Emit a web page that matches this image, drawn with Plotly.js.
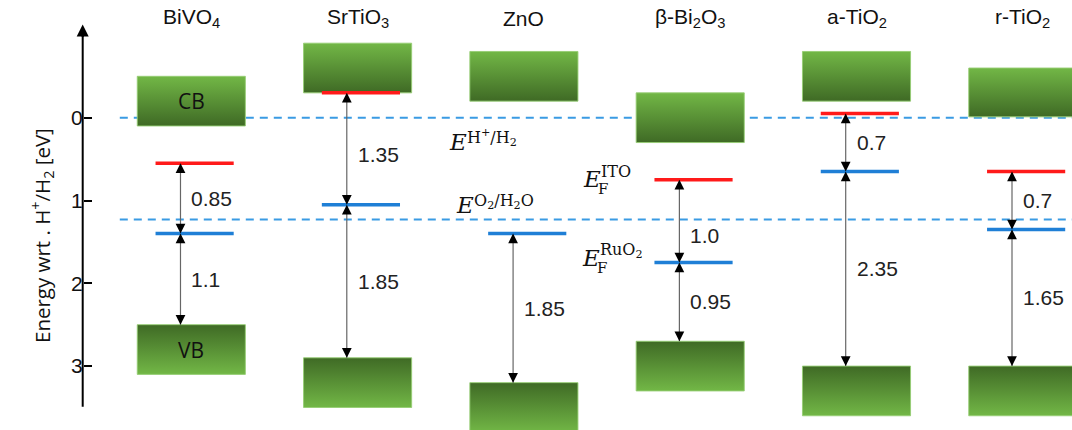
<!DOCTYPE html>
<html>
<head>
<meta charset="utf-8">
<script src="https://cdn.plot.ly/plotly-3.0.1.min.js"></script>
<style>html,body{margin:0;padding:0;background:#fff;}#chart{width:1072px;height:430px;}</style>
</head>
<body>
<div id="chart"></div>
<script>
// ---- data (energies in eV vs H+/H2, positive downward) ----
const categories = ['BiVO<sub>4</sub>', 'SrTiO<sub>3</sub>', 'ZnO', 'β-Bi<sub>2</sub>O<sub>3</sub>', 'a-TiO<sub>2</sub>', 'r-TiO<sub>2</sub>'];
const cbTop    = [-0.5, -0.9, -0.8, -0.3, -0.8, -0.6];
const cbBottom = [ 0.1, -0.3, -0.2,  0.3, -0.2, -0.01];
const vbTop    = [ 2.5,  2.9,  3.2,  2.7,  3.0,  3.0];
const vbBottom = [ 3.1,  3.5,  3.8,  3.3,  3.6,  3.6];
const efITO    = [0.55, -0.3, null, 0.75, -0.05, 0.65];
const efRuO2   = [1.4, 1.05, 1.4, 1.75, 0.65, 1.35];
const gapUpper = ['0.85', '1.35', null, '1.0', '0.7', '0.7'];
const gapLower = ['1.1', '1.85', '1.85', '0.95', '2.35', '1.65'];
const refLevels = [0, 1.23];
const tickVals = [0, 1, 2, 3];

// ---- styling ----
const boxHalf = 0.325, lineHalf = 0.235, lineOff = 0.02, arrowOff = -0.065;
const upperNudge = [0, 6, 0, 14, 0, 0]; // px shift of upper gap labels
const light = '#72b746', dark = '#3f6a25', edge = 'rgba(150,205,115,0.9)';

const traces = [];
const shapes = [];
const annotations = [];

categories.forEach((c, i) => {
  const x0 = i - boxHalf, x1 = i + boxHalf;
  traces.push({
    x: [x0, x1, x1, x0, x0], y: [cbTop[i], cbTop[i], cbBottom[i], cbBottom[i], cbTop[i]],
    mode: 'lines', fill: 'toself', line: {color: edge, width: 1}, hoverinfo: 'skip', showlegend: false,
    fillgradient: {type: 'vertical', colorscale: [[0, light], [1, dark]], start: cbTop[i], stop: cbBottom[i]}
  });
  traces.push({
    x: [x0, x1, x1, x0, x0], y: [vbTop[i], vbTop[i], vbBottom[i], vbBottom[i], vbTop[i]],
    mode: 'lines', fill: 'toself', line: {color: edge, width: 1}, hoverinfo: 'skip', showlegend: false,
    fillgradient: {type: 'vertical', colorscale: [[0, dark], [1, light]], start: vbTop[i], stop: vbBottom[i]}
  });
  // category label
  annotations.push({x: i, y: -1.2, xref: 'x', yref: 'y', text: c, showarrow: false,
    font: {family: 'Liberation Sans, Arial', size: 21, color: '#111'}});
  const ax = i + arrowOff;
  const lx0 = i + lineOff - lineHalf, lx1 = i + lineOff + lineHalf;
  const segs = [];
  if (efITO[i] !== null) segs.push([efITO[i], efRuO2[i], gapUpper[i], upperNudge[i]]);
  segs.push([efRuO2[i], vbTop[i], gapLower[i], 0]);
  segs.forEach(s => {
    shapes.push({type: 'line', xref: 'x', yref: 'y', x0: ax, x1: ax, y0: s[0], y1: s[1],
      line: {color: '#666', width: 1.2}});
    annotations.push({x: ax, y: s[0], xref: 'x', yref: 'y', ax: 0, ay: 9, text: '', showarrow: true,
      arrowhead: 2, arrowsize: 1.5, arrowwidth: 1.3, arrowcolor: '#000'});
    annotations.push({x: ax, y: s[1], xref: 'x', yref: 'y', ax: 0, ay: -9, text: '', showarrow: true,
      arrowhead: 2, arrowsize: 1.5, arrowwidth: 1.3, arrowcolor: '#000'});
    annotations.push({x: ax, y: (s[0] + s[1]) / 2, xref: 'x', yref: 'y', text: s[2], showarrow: false,
      xanchor: 'left', yanchor: 'middle', xshift: 9, yshift: -s[3],
      font: {family: 'Liberation Sans, Arial', size: 21, color: '#222'}});
  });
  if (efITO[i] !== null) shapes.push({type: 'line', xref: 'x', yref: 'y', x0: lx0, x1: lx1, y0: efITO[i], y1: efITO[i],
    line: {color: '#ff1a1a', width: 3.5}});
  shapes.push({type: 'line', xref: 'x', yref: 'y', x0: lx0, x1: lx1, y0: efRuO2[i], y1: efRuO2[i],
    line: {color: '#1f7fd6', width: 3.5}});
});

// reference dashed levels
refLevels.forEach(v => shapes.push({type: 'line', xref: 'x', yref: 'y', x0: -0.43, x1: 5.4, y0: v, y1: v,
  layer: 'below', line: {color: '#3a9be3', width: 2, dash: '8px,6px'}}));

// axis line with arrow
const axisX = -0.653;
shapes.push({type: 'line', xref: 'x', yref: 'y', x0: axisX, x1: axisX, y0: 3.49, y1: -1.05, line: {color: '#000', width: 2}});
annotations.push({x: axisX, y: -1.125, xref: 'x', yref: 'y', ax: 0, ay: 14, text: '', showarrow: true,
  arrowhead: 2, arrowsize: 1.2, arrowwidth: 2, arrowcolor: '#000'});

// CB / VB labels
annotations.push({x: 0, y: (cbTop[0] + cbBottom[0]) / 2, xref: 'x', yref: 'y', text: 'CB', showarrow: false,
  font: {family: 'Open Sans, Noto Sans', size: 21, color: '#111'}});
annotations.push({x: 0, y: (vbTop[0] + vbBottom[0]) / 2, xref: 'x', yref: 'y', text: 'VB', showarrow: false,
  font: {family: 'Open Sans, Noto Sans', size: 21, color: '#111'}});

// potential labels
const serif = 'DejaVu Serif, Liberation Serif';
function eLabel(x, y, sup, sub) {
  annotations.push({x: x, y: y, xref: 'x', yref: 'y', text: '<i>E</i>', showarrow: false, xanchor: 'left', yanchor: 'middle',
    font: {family: serif, size: 23, color: '#111'}});
  annotations.push({x: x, y: y, xref: 'x', yref: 'y', text: sup, showarrow: false, xanchor: 'left', yanchor: 'middle',
    xshift: 18, yshift: sub ? 7 : 4, font: {family: serif, size: 16, color: '#111'}});
  if (sub) annotations.push({x: x, y: y, xref: 'x', yref: 'y', text: sub, showarrow: false, xanchor: 'left', yanchor: 'middle',
    xshift: 15, yshift: -10, font: {family: serif, size: 15, color: '#111'}});
}
eLabel(1.54, 0.29, 'H<sup>+</sup>/H<sub>2</sub>');
eLabel(1.578, 1.06, 'O<sub>2</sub>/H<sub>2</sub>O');
eLabel(2.345, 0.74, 'ITO', 'F');
eLabel(2.335, 1.69, 'RuO<sub>2</sub>', 'F');

// y title
annotations.push({xref: 'paper', yref: 'paper', x: 24 / 1072, y: 1 - 236 / 430, text: 'Energy wrt . H<sup>+</sup>/H<sub>2</sub> [eV]',
  textangle: -90, showarrow: false, font: {family: 'Open Sans, Noto Sans', size: 20.5, color: '#111'}});

const layout = {
  width: 1072, height: 430,
  margin: {l: 0, r: 0, t: 0, b: 0},
  paper_bgcolor: '#fff', plot_bgcolor: '#fff',
  showlegend: false,
  xaxis: {range: [-1.1503, 5.2958], visible: false, fixedrange: true},
  yaxis: {range: [3.7717, -1.4215], anchor: 'free', position: 82.7 / 1072, side: 'left',
    tickvals: tickVals, ticktext: tickVals.map(String), ticks: 'inside', ticklen: 8, tickwidth: 2, tickcolor: '#000',
    showline: false, showgrid: false, zeroline: false, fixedrange: true,
    tickfont: {family: 'Liberation Sans, Arial', size: 21, color: '#111'}},
  shapes: shapes,
  annotations: annotations
};
Plotly.newPlot('chart', traces, layout, {displayModeBar: false, staticPlot: true});
</script>
</body>
</html>
